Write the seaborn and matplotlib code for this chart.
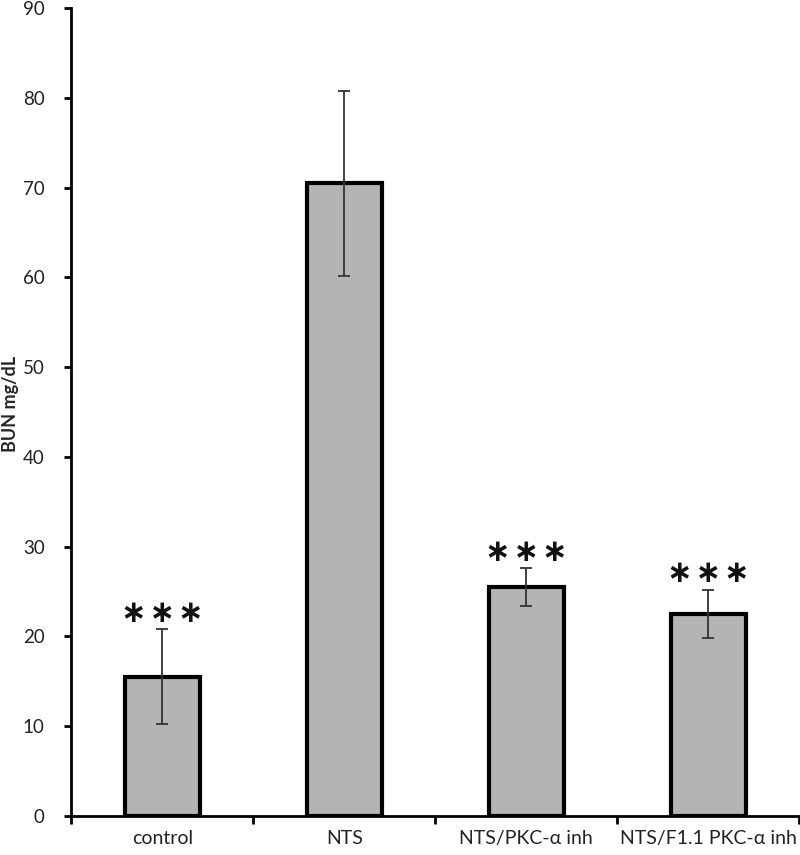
import numpy as np
import pandas as pd
import matplotlib
matplotlib.use("Agg")
import matplotlib.pyplot as plt
import seaborn as sns

# values
groups = ["control", "NTS", "NTS/PKC-\u03b1 inh", "NTS/F1.1 PKC-\u03b1 inh"]
bun_mean = [15.5, 70.5, 25.5, 22.5]
bun_err = [5.3, 10.3, 2.1, 2.7]
stars = ["\u2217\u200a\u2217\u200a\u2217", "", "\u2217\u200a\u2217\u200a\u2217", "\u2217\u200a\u2217\u200a\u2217"]

df = pd.DataFrame({"group": groups, "bun": bun_mean})

sns.set_theme(style="white")
plt.rcParams["font.family"] = ["Lato", "DejaVu Sans"]

fig = plt.figure(figsize=(8, 8.55), dpi=100)
ax = fig.add_axes([0.089, 0.0456, 0.91, 0.945])

sns.barplot(data=df, x="group", y="bun", color="#b4b4b4", width=0.41,
            edgecolor="black", linewidth=3, saturation=1, ax=ax)
ax.errorbar(np.arange(len(groups)), bun_mean, yerr=bun_err, fmt="none",
            ecolor="#333333", elinewidth=1.3, capsize=4, capthick=1.3)

# significance marks above the error bars
for i, s in enumerate(stars):
    if s:
        ax.annotate(s, (i, bun_mean[i] + bun_err[i]), xytext=(0, 1),
                    textcoords="offset points", ha="center", va="bottom",
                    fontsize=22, fontweight="bold", family=["DejaVu Sans"],
                    color="#111111")

ax.set_xlim(-0.5, 3.5)
ax.set_ylim(0, 90)
ax.set_yticks(range(0, 91, 10))
ax.set_xticks(np.arange(len(groups)))
ax.set_xticklabels(groups)
ax.set_xticks(np.arange(-0.5, 3.6, 1), minor=True)
ax.tick_params(axis="x", which="major", length=0, pad=10, labelsize=14, labelcolor="#222222")
ax.tick_params(axis="x", which="minor", direction="out", length=6, width=2, color="black", bottom=True)
ax.tick_params(axis="y", direction="out", length=5, width=2, color="black", left=True,
               pad=14, labelsize=13.5, labelcolor="#222222")

for side in ["top", "right"]:
    ax.spines[side].set_visible(False)
for side in ["left", "bottom"]:
    ax.spines[side].set_color("black")
    ax.spines[side].set_linewidth(2)

ax.set_xlabel("")
ax.set_ylabel("BUN mg/dL", fontsize=13, fontweight="bold")
ax.yaxis.set_label_coords(-0.072, 0.51)

fig.savefig("out.png", dpi=100, facecolor="white")
